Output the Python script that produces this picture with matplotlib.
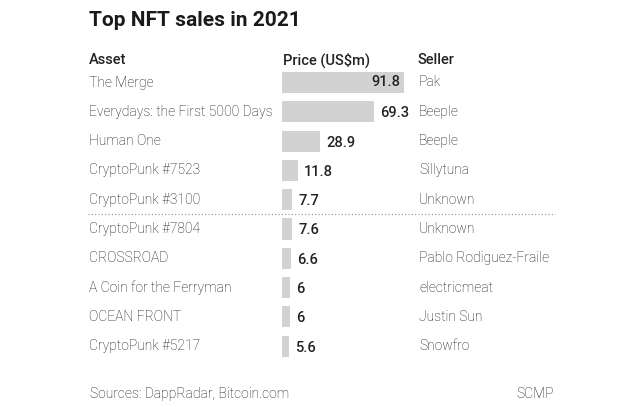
import matplotlib
matplotlib.use('Agg')
import matplotlib.pyplot as plt
import matplotlib.transforms as mtransforms

plt.rcParams['font.family'] = ['Roboto', 'DejaVu Sans']

# chart data
assets = ['The Merge', 'Everydays: the First 5000 Days', 'Human One', 'CryptoPunk #7523',
          'CryptoPunk #3100', 'CryptoPunk #7804', 'CROSSROAD', 'A Coin for the Ferryman',
          'OCEAN FRONT', 'CryptoPunk #5217']
prices = [91.8, 69.3, 28.9, 11.8, 7.7, 7.6, 6.6, 6, 6, 5.6]
price_labels = ['91.8', '69.3', '28.9', '11.8', '7.7', '7.6', '6.6', '6', '6', '5.6']
sellers = ['Pak', 'Beeple', 'Beeple', 'Sillytuna', 'Unknown', 'Unknown',
           'Pablo Rodiguez-Fraile', 'electricmeat', 'Justin Sun', 'Snowfro']

W, H = 640, 407
fig = plt.figure(figsize=(W / 100, H / 100), dpi=100)
fig.patch.set_facecolor('white')

# px -> figure fraction helpers
def fx(px):
    return px / W

def fy(py):
    return 1 - py / H

bar_x0 = 282
px_per_unit = 1.329
row0, row_step = 82.5, 29.3
n = len(assets)
top_px = row0 - row_step / 2
bot_px = row0 + row_step * (n - 0.5)

ax = fig.add_axes([fx(bar_x0), fy(bot_px), fx(W - bar_x0), (bot_px - top_px) / H])
ax.set_xlim(0, (W - bar_x0) / px_per_unit)
ax.set_ylim(n - 0.5, -0.5)
ax.axis('off')

ys = list(range(n))
ax.barh(ys, prices, height=0.72, color='#d2d2d2', left=0)

dark = '#222222'
txt = '#111111'
for i, (v, lab) in enumerate(zip(prices, price_labels)):
    if i == 0:
        ax.text(v - 2.5, i, lab, ha='right', va='center', fontsize=10.5,
                fontweight='medium', color=dark)
    else:
        ax.text(v + 4.5, i + 0.05, lab, ha='left', va='center', fontsize=10.5,
                fontweight='medium', color=dark)

trans = mtransforms.blended_transform_factory(fig.transFigure, ax.transData)
for i, (a, s) in enumerate(zip(assets, sellers)):
    ax.text(fx(89), i, a, transform=trans, ha='left', va='center', fontsize=10,
            fontweight='light', color=txt, clip_on=False)
    ax.text(fx(419), i, s, transform=trans, ha='left', va='center', fontsize=10,
            fontweight='light', color=txt, clip_on=False)

# dotted separator between 5th and 6th rows
ax.plot([fx(88), fx(555)], [4.5, 4.5], transform=trans, color='#8a8a8a',
        linestyle=(0, (1, 2)), linewidth=0.8, clip_on=False)

fig.text(fx(89), fy(20), 'Top NFT sales in 2021', ha='left', va='center',
         fontsize=15, fontweight='bold', color='#1a1a1a')
for x, lab in [(89, 'Asset'), (283, 'Price (US$m)'), (418, 'Seller')]:
    fig.text(fx(x), fy(60), lab, ha='left', va='center', fontsize=10.5,
             fontweight='medium', color=dark)

fig.text(fx(90), fy(394), 'Sources: DappRadar, Bitcoin.com', ha='left', va='center',
         fontsize=10, fontweight='light', color=txt)
fig.text(fx(516), fy(394), 'SCMP', ha='left', va='center',
         fontsize=10, fontweight='light', color=txt)

fig.savefig('out.png', dpi=100, facecolor='white')
